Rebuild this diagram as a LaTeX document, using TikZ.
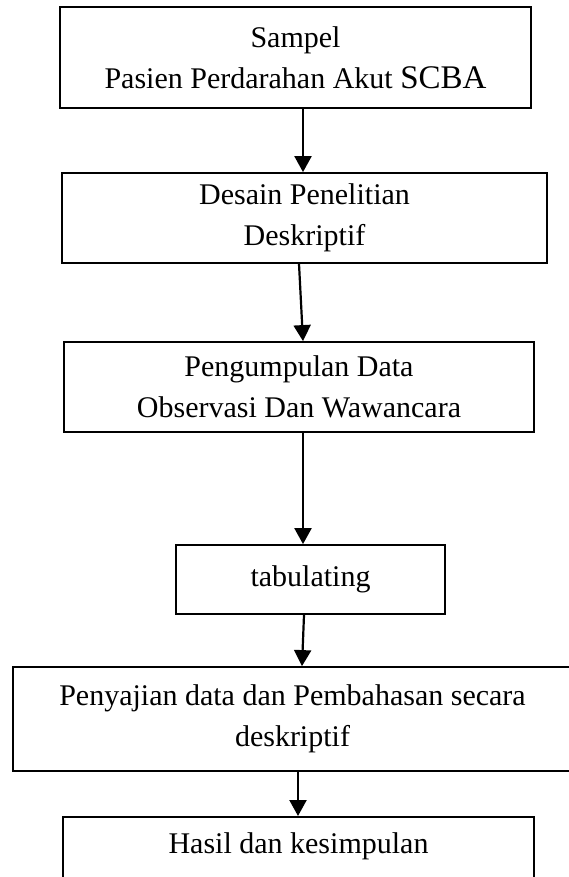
\documentclass[tikz,border=0pt]{standalone}
\usepackage{fontspec}
\setmainfont{Liberation Serif}
\usetikzlibrary{arrows.meta}

\begin{document}
\begin{tikzpicture}[x=1pt, y=-1pt,
    kotak/.style={draw, black, line width=1.8pt, align=center, inner sep=0pt,
                  font=\fontsize{30}{41}\selectfont},
    panah/.style={line width=2.2pt, -{Triangle[length=16pt, width=17pt]}}] %alur
    \useasboundingbox (0,0) rectangle (568,877);

    \node[kotak, minimum width=471pt, minimum height=101pt] (sampel) at (295.5,57.5)
        {Sampel\\Pasien Perdarahan Akut {\fontsize{33}{41}\selectfont SCBA}};
    \node[kotak, minimum width=485pt, minimum height=90pt] (desain) at (304.5,218)
        {Desain Penelitian\\Deskriptif};
    \node[kotak, minimum width=470pt, minimum height=90pt] (kumpul) at (299,387)
        {Pengumpulan Data\\Observasi Dan Wawancara};
    \node[kotak, minimum width=269pt, minimum height=69pt] (tabulasi) at (310.5,579.5)
        {tabulating};
    \node[kotak, minimum width=559pt, minimum height=104pt] (sajian) at (292.5,719)
        {Penyajian data dan Pembahasan secara\\deskriptif};
    \node[kotak, minimum width=471pt, anchor=north, inner ysep=10pt,
          text height=27pt, text depth=60pt] (hasil) at (298.5,816)
        {Hasil dan kesimpulan};

    \draw[panah] ([xshift=7.5pt]sampel.south) -- ([xshift=-1.5pt]desain.north);
    \draw[panah] ([xshift=-5.5pt]desain.south) -- ([xshift=4pt]kumpul.north);
    \draw[panah] ([xshift=4pt]kumpul.south) -- ([xshift=-7.5pt]tabulasi.north);
    \draw[panah] ([xshift=-6.5pt]tabulasi.south) -- ([xshift=9.5pt]sajian.north);
    \draw[panah] ([xshift=5.5pt]sajian.south) -- ([xshift=-0.5pt]hasil.north);
\end{tikzpicture}
\end{document}
